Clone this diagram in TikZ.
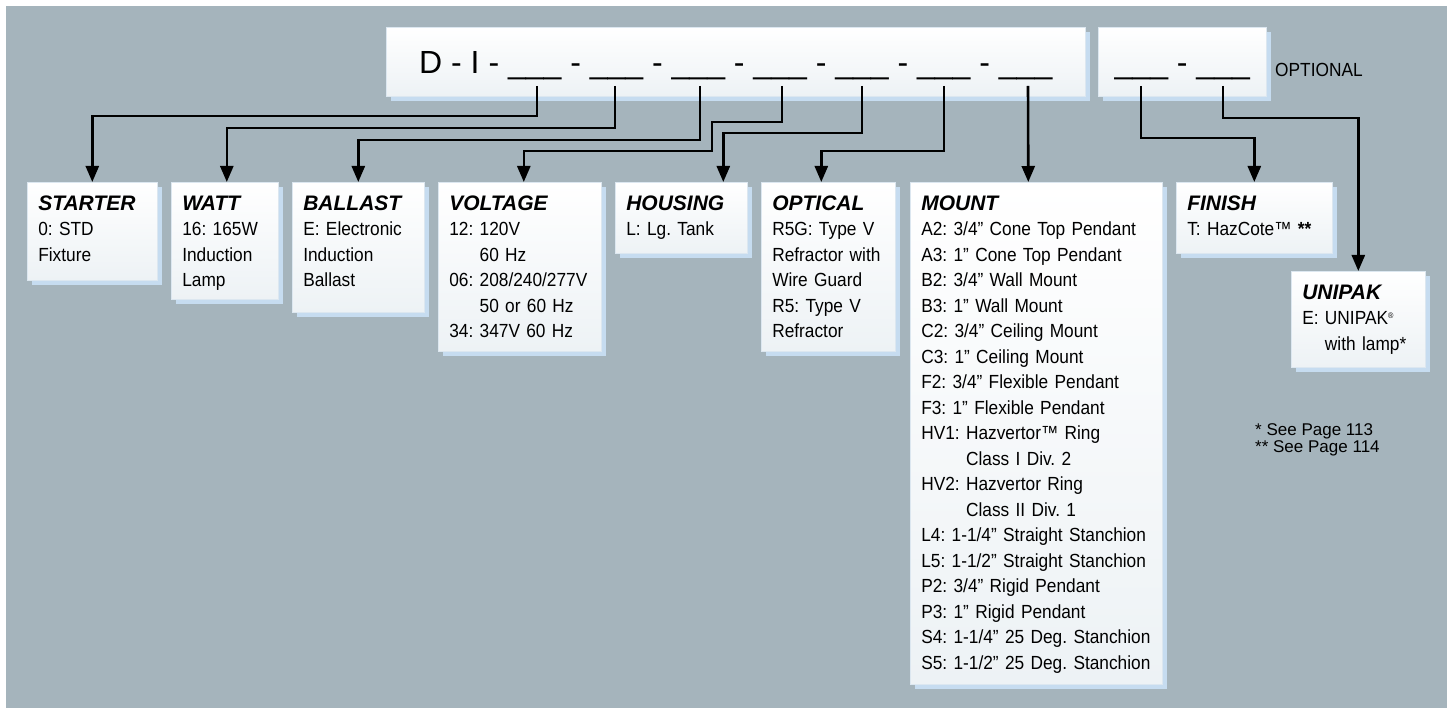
\documentclass[tikz,border=0pt]{standalone}
\usepackage{fontspec}
\setmainfont[FakeStretch=0.91]{Liberation Sans}
\newfontfamily\headfont{Liberation Sans}
\usepackage{tikz}
\usetikzlibrary{arrows.meta, shadows, calc}
\frenchspacing
\hyphenpenalty=10000

\definecolor{panelgray}{HTML}{A5B4BC}
\definecolor{cardshadow}{HTML}{C6DCF0}
\definecolor{cardfoot}{HTML}{EDF2F5}
\definecolor{cardedge}{HTML}{DCE7F0}

\newcommand{\cardtitle}[1]{{\headfont\fontsize{21}{25.5}\selectfont\bfseries\itshape #1}}

\begin{document}
\begin{tikzpicture}[
    x=1pt, y=-1pt,
    card/.style={rectangle, draw=cardedge, line width=0.6pt, top color=white, bottom color=cardfoot,
        drop shadow={shadow xshift=5pt, shadow yshift=-5pt, fill=cardshadow, opacity=1},
        anchor=north west, align=left, inner xsep=11pt, inner ysep=13pt, text height=15pt,
        font=\fontsize{19}{25.5}\selectfont},
    codebox/.style={rectangle, draw=cardedge, line width=0.6pt, top color=white, bottom color=cardfoot,
        drop shadow={shadow xshift=5pt, shadow yshift=-5pt, fill=cardshadow, opacity=1},
        anchor=north west, inner sep=0pt, text height=23pt, text depth=0pt,
        font=\headfont\fontsize{32}{32}\selectfont},
    arrow/.style={-{Triangle[length=16pt,width=13pt]}, line width=2.6pt}
]
    \path[fill=white, use as bounding box] (0,0) rectangle (1447,708);
    \fill[panelgray] (6,6) rectangle (1447,708);

    % part number
    \node[codebox, minimum width=699pt, minimum height=69pt] (code) at (386,27)
        {D - I - \_\_\_ - \_\_\_ - \_\_\_ - \_\_\_ - \_\_\_ - \_\_\_ - \_\_\_};
    \node[codebox, minimum width=168pt, minimum height=69pt] (opt) at (1098,27)
        {\_\_\_ - \_\_\_};
    \node[anchor=base west, inner sep=0pt, font=\fontsize{19}{20}\selectfont] (optlabel) at (1275,77) {OPTIONAL};

    \coordinate (s1) at (537,86);
    \coordinate (s2) at (615,86);
    \coordinate (s3) at (700,86);
    \coordinate (s4) at (782,86);
    \coordinate (s5) at (862,86);
    \coordinate (s6) at (944,86);
    \coordinate (s7) at (1028,86);
    \coordinate (opt1) at (1141,86);
    \coordinate (opt2) at (1223,86);

    % option cards
    \node[card, text width=108pt, text depth=57pt] (starter) at (27,182)
        {\cardtitle{STARTER}\\0: STD\\Fixture};
    \node[card, text width=85pt, text depth=76pt] (watt) at (171,182)
        {\cardtitle{WATT}\\16: 165W\\Induction\\Lamp};
    \node[card, text width=110pt, text depth=89pt] (ballast) at (292,182)
        {\cardtitle{BALLAST}\\E: Electronic\\Induction\\Ballast};
    \node[card, text width=141pt, text depth=128pt] (voltage) at (438,182)
        {\cardtitle{VOLTAGE}\\12: 120V\\\phantom{12: }60 Hz\\06:~208/240/277V\\\phantom{06: }50 or 60 Hz\\34: 347V 60 Hz};
    \node[card, text width=110pt, text depth=30pt] (housing) at (615,182)
        {\cardtitle{HOUSING}\\L: Lg. Tank};
    \node[card, text width=112pt, text depth=128pt] (optical) at (761,182)
        {\cardtitle{OPTICAL}\\R5G: Type V\\Refractor with\\Wire Guard\\R5: Type V\\Refractor};
    \node[card, text width=230pt, text depth=461pt] (mount) at (910,182)
        {\cardtitle{MOUNT}\\
         A2: 3/4” Cone Top Pendant\\
         A3: 1” Cone Top Pendant\\
         B2: 3/4” Wall Mount\\
         B3: 1” Wall Mount\\
         C2: 3/4” Ceiling Mount\\
         C3: 1” Ceiling Mount\\
         F2: 3/4” Flexible Pendant\\
         F3: 1” Flexible Pendant\\
         HV1: Hazvertor™ Ring\\
         \phantom{HV1: }Class I Div. 2\\
         HV2: Hazvertor Ring\\
         \phantom{HV2: }Class II Div. 1\\
         L4: 1-1/4” Straight Stanchion\\
         L5: 1-1/2” Straight Stanchion\\
         P2: 3/4” Rigid Pendant\\
         P3: 1” Rigid Pendant\\
         S4: 1-1/4” 25 Deg. Stanchion\\
         S5: 1-1/2” 25 Deg. Stanchion};
    \node[card, text width=134pt, text depth=30pt] (finish) at (1176,182)
        {\cardtitle{FINISH}\\T: HazCote™ \textbf{**}};
    \node[card, text width=112pt, text depth=55pt] (unipak) at (1291,271)
        {\cardtitle{UNIPAK}\\E: UNIPAK\raisebox{6pt}{\fontsize{8}{8}\selectfont ®}\\\phantom{E: }with lamp*};

    \node[anchor=north west, align=left, inner sep=0pt, font=\headfont\fontsize{17}{17}\selectfont] (notes) at (1255,423)
        {* See Page 113\\** See Page 114};

    \draw[arrow] (s1) -- ++(0,30) -| (starter.north);
    \draw[arrow] (s2) -- ++(0,42) -| ($(watt.north)+(2,0)$);
    \draw[arrow] (s3) -- ++(0,54) -| (ballast.north);
    \draw[arrow] (s4) -- ++(0,36) -| ++(-70,29) -| ($(voltage.north)+(4,0)$);
    \draw[arrow] (s5) -- ++(0,47) -| ($(housing.north)+(42,0)$);
    \draw[arrow] (s6) -- ++(0,65) -| ($(optical.north)+(-7,0)$);
    \draw[arrow] (s7) -- ($(mount.north)+(-8,0)$);
    \draw[arrow] (opt1) -- ++(0,52) -| (finish.north);
    \draw[arrow] (opt2) -- ++(0,32) -| (unipak.north);
\end{tikzpicture}
\end{document}
